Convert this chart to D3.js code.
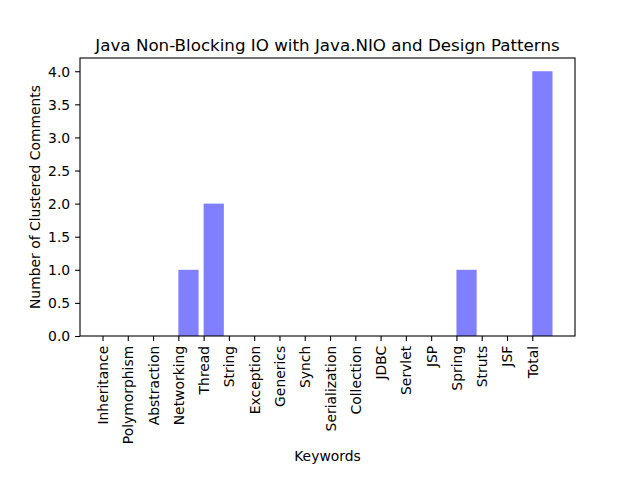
<!DOCTYPE html>
<html><head><meta charset="utf-8">
<script src="https://cdn.jsdelivr.net/npm/d3@7"></script>
<style>body{margin:0;background:#fff}svg{display:block}text{font-family:"DejaVu Sans",sans-serif;fill:#000}</style>
</head><body><svg id="c" width="640" height="480"></svg>
<script>
const categories = ["Inheritance","Polymorphism","Abstraction","Networking","Thread","String","Exception","Generics","Synch","Serialization","Collection","JDBC","Servlet","JSP","Spring","Struts","JSF","Total"];
const values = [0,0,0,1,2,0,0,0,0,0,0,0,0,0,1,0,0,4];
const yTicks = [0,0.5,1,1.5,2,2.5,3,3.5,4];
const title = "Java Non-Blocking IO with Java.NIO and Design Patterns";
const xLabel = "Keywords";
const yLabel = "Number of Clustered Comments";

const L=80, R=575, T=58, B=336;
const barW = 0.8;
const n = categories.length;
const span = (n-1)+barW;
const x = d3.scaleLinear().domain([-0.05*span, span*1.05]).range([L,R]);
const y = d3.scaleLinear().domain([0,4.2]).range([B,T]);
const svg = d3.select("#c");

svg.append("g").selectAll("rect").data(values).join("rect")
  .attr("x",(d,i)=>x(i)).attr("width",x(barW)-x(0))
  .attr("y",d=>y(d)).attr("height",d=>y(0)-y(d))
  .attr("fill","#0000ff").attr("fill-opacity",0.5);

const xAxis = d3.axisBottom(x).tickValues(d3.range(n)).tickFormat(i=>categories[i]).tickSize(4.9).tickPadding(4.9);
const gx = svg.append("g").attr("transform",`translate(0,${B})`).call(xAxis);
gx.select(".domain").remove();
gx.selectAll(".tick line").attr("stroke","#000").attr("stroke-width",1.1);
gx.selectAll(".tick text").attr("font-size","13.9px")
  .attr("transform",null).attr("text-anchor","end").attr("dy",null)
  .attr("y",null).attr("x",null)
  .attr("dominant-baseline","central")
  .attr("transform","translate(0,9.8) rotate(-90)");

const yAxis = d3.axisLeft(y).tickValues(yTicks).tickFormat(d3.format(".1f")).tickSize(4.9).tickPadding(4.9);
const gy = svg.append("g").attr("transform",`translate(${L},0)`).call(yAxis);
gy.select(".domain").remove();
gy.selectAll(".tick line").attr("stroke","#000").attr("stroke-width",1.1);
gy.selectAll(".tick text").attr("font-size","13.9px").attr("dy","0.35em");

svg.append("rect").attr("x",L).attr("y",T).attr("width",R-L).attr("height",B-T)
  .attr("fill","none").attr("stroke","#000").attr("stroke-width",1.1);

svg.append("text").attr("x",(L+R)/2).attr("y",T-7).attr("text-anchor","middle")
  .attr("font-size","16.7px").text(title);
svg.append("text").attr("x",(L+R)/2).attr("y",461).attr("text-anchor","middle")
  .attr("font-size","13.9px").text(xLabel);
svg.append("text").attr("transform",`translate(40,${(T+B)/2}) rotate(-90)`).attr("text-anchor","middle")
  .attr("font-size","13.9px").text(yLabel);
</script></body></html>
